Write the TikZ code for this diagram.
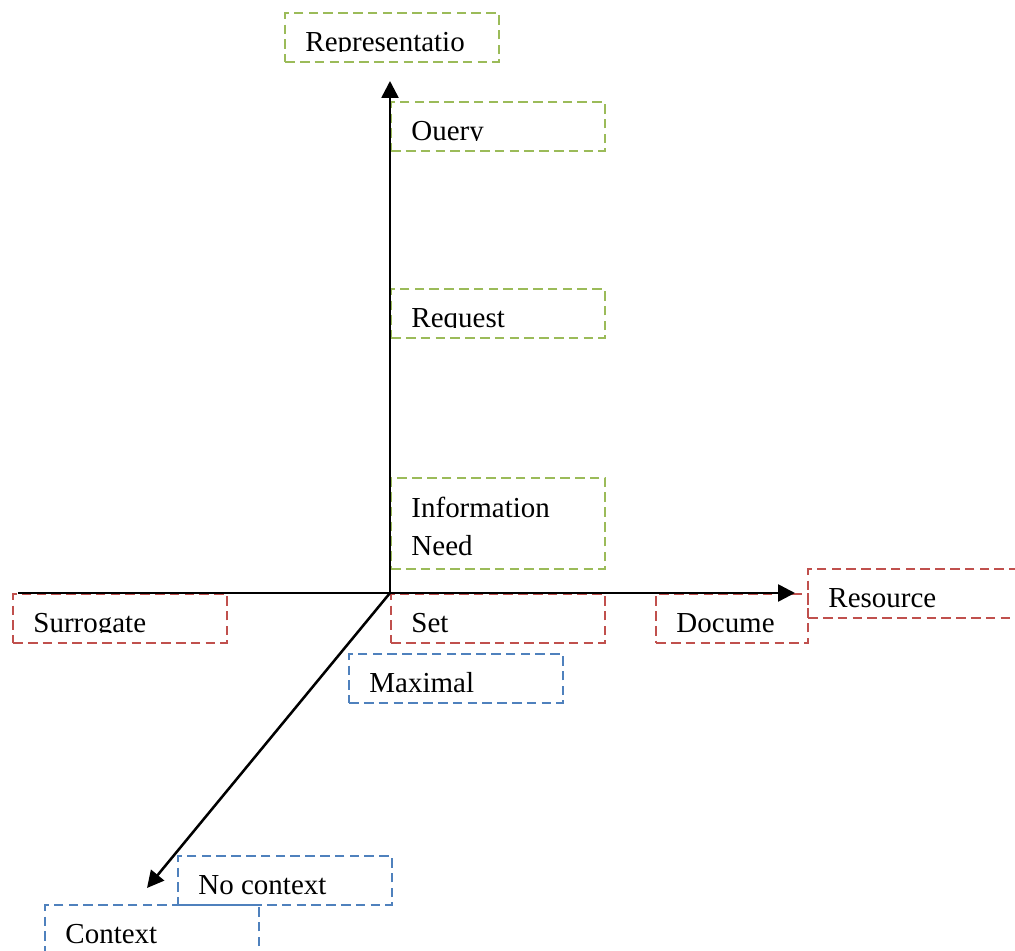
\documentclass[tikz,border=0pt]{standalone}
\usepackage{fontspec}
\setmainfont{Liberation Serif}
\usetikzlibrary{arrows.meta,positioning}
\definecolor{boxgreen}{RGB}{155,187,89}
\definecolor{boxred}{RGB}{192,80,77}
\definecolor{boxblue}{RGB}{79,129,189}

\begin{document}
\begin{tikzpicture}[
      x=0.025cm, y=-0.025cm,
      mybox/.style={
         rectangle,
         line width=1.6pt,
         dash pattern=on 0.24cm off 0.13cm,
         inner sep=0pt,
         anchor=north west},
      mytext/.style={
         inner sep=0pt,
         align=left,
         anchor=base west,
         font=\fontsize{20.6}{27}\selectfont},
      myarrow/.style={-{Triangle[length=0.42cm,width=0.42cm]}},
      myaxis/.style={line width=1.8pt}
      ]
      \useasboundingbox (0,0) rectangle (1015,951);
      % text boxes: name/colour/x/y/width/height/baseline/text
    \foreach \nm/\clr/\xa/\ya/\boxw/\boxh/\bl/\txt in {
      rep/boxgreen/284/12/5.35/1.225/0.3/Representatio,
      query/boxgreen/390/101/5.35/1.225/0.3/Ouery,
      req/boxgreen/390/288/5.35/1.225/0.3/Request,
      need/boxgreen/390/477/5.35/2.275/0.375/{Information\\Need},
      surr/boxred/12/593/5.35/1.225/0.3/Surrogate,
      set/boxred/390/593/5.35/1.225/0.3/Set,
      doc/boxred/655/593/3.8/1.225/0.3/Docume,
      res/boxred/807/568/5.35/1.225/0.3/Resource,
      max/boxblue/348/653/5.35/1.225/0.3/Maximal,
      noctx/boxblue/177/855/5.35/1.225/0.3/No context,
      ctx/boxblue/44/904/5.35/1.225/0.3/Context}
    {
      \node[mybox, draw=\clr, minimum width=\boxw cm, minimum height=\boxh cm] (\nm) at (\xa,\ya) {};
      \begin{scope}
        \clip (\nm.north west) rectangle ([yshift=0.3cm]\nm.south east);
        \node[mytext] (\nm-txt) at ([xshift=0.53cm,yshift=\bl cm]\nm.south west) {\txt};
      \end{scope}
    }
      % axes
      \coordinate (o) at (390,593);
      \coordinate (ytip) at (390,81);
      \coordinate (xstart) at (18,593);
      \coordinate (xtip) at (795,593);
      \coordinate (ztip) at (147,888);
      \draw[myaxis,myarrow] (o) -- (ytip);
      \draw[myaxis,myarrow] (xstart) -- (xtip);
      \draw[myaxis,myarrow] (o) -- (ztip);
\end{tikzpicture}
\end{document}
